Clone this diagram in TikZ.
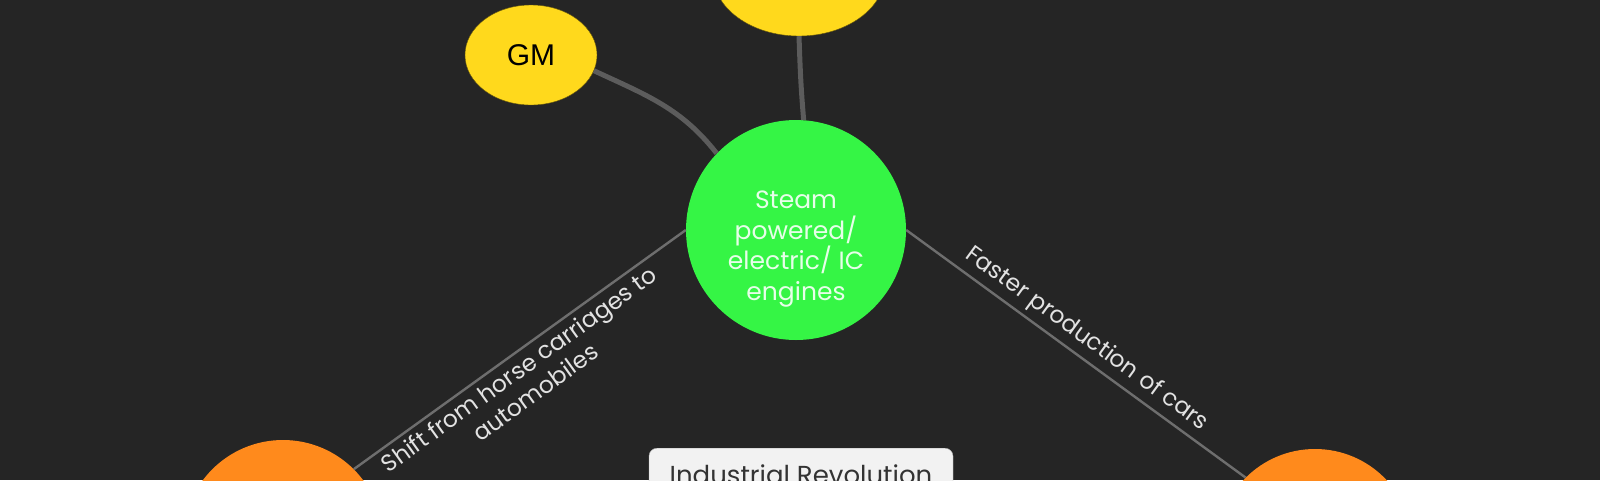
\documentclass[tikz,border=0pt]{standalone}
\usepackage{fontspec}
\setmainfont{Poppins}
\newfontfamily\gmfont{Liberation Sans}
\usepackage{tikz}
\usetikzlibrary{positioning, calc, shapes}
\definecolor{bgGray}{HTML}{252525}
\definecolor{ideaYellow}{HTML}{FFD91C}
\definecolor{ideaGreen}{HTML}{35F545}
\definecolor{ideaOrange}{HTML}{FF8A1C}
\definecolor{edgeGray}{HTML}{5C5C5C}
\definecolor{edgeLight}{HTML}{6E6E6E}
\definecolor{labelGray}{HTML}{E2E2E2}
\definecolor{titleFill}{HTML}{F2F2F2}
\tikzset{company/.style={ellipse, fill=ideaYellow, draw=black!60!ideaYellow, thin, inner sep=0pt}}
\tikzset{engine/.style={circle, fill=ideaGreen, minimum size=220pt, inner sep=0pt}}
\tikzset{engineText/.style={align=center, text=white!88!ideaGreen, font=\fontsize{25}{30.6}\selectfont}}
\tikzset{effect/.style={circle, fill=ideaOrange, minimum size=200pt, inner sep=0pt}}
\tikzset{thickEdge/.style={draw=edgeGray, line width=5pt}}
\tikzset{thinEdge/.style={draw=edgeLight, line width=2.4pt}}
\tikzset{edgeText/.style={text=labelGray, font=\fontsize{23.5}{28}\selectfont, align=center}}
\tikzset{titlebox/.style={rectangle, rounded corners=8pt, fill=titleFill, draw=black!30, thin, minimum width=304pt, text=black!80, font=\fontsize{26}{30}\selectfont, inner ysep=0pt, text height=36pt, text depth=40pt}}

\begin{document}
\begin{tikzpicture}[x=1pt,y=1pt]

      \useasboundingbox (0,0) rectangle (1600,-480);
      \fill[bgGray] (0,0) rectangle (1600,-480);
      \clip (0,0) rectangle (1600,-480);

      % BUBBLES

      \node[engine] (engines) at (796,-230) {};
      \node[company, minimum width=172pt, minimum height=124pt] (topCo) at (799,26) {};
      \node[company, minimum width=132pt, minimum height=100pt, font=\gmfont\fontsize{30}{30}\selectfont] (gm) at (531,-55) {GM};
      \node[effect] (effLeft) at (283,-540) {};
      \node[effect, minimum size=196pt] (effRight) at (1315,-547) {};

      % TEXTS

      \node[engineText] (engineLines) at ($(engines.center)-(0,19)$) {Steam\\powered/\\electric/ IC\\engines};
      \node[titlebox, anchor=north] (title) at (801,-448) {Industrial Revolution};

      % ARCS

      \draw[thickEdge] (gm.-14) to[out=-25, in=128] (engines.136);
      \draw[thickEdge] (topCo.south) to[out=-88, in=95] (engines.86);
      \draw[thinEdge] (effLeft.45) -- (engines.west)
        node[edgeText, pos=0.47, sloped, below, inner sep=5pt] (shiftLabel) {Shift from horse carriages to\\automobiles};
      \draw[thinEdge] (engines.east) -- (effRight.135)
        node[edgeText, pos=0.5, sloped, above, inner sep=5pt] (fasterLabel) {Faster production of cars};
    \end{tikzpicture}
\end{document}
